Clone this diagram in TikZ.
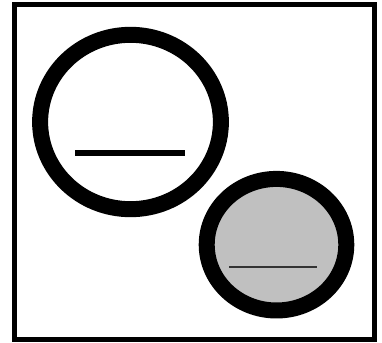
\documentclass[tikz,border=0pt]{standalone}
\usetikzlibrary{shapes.geometric}
\definecolor{DiscGray}{RGB}{192,192,192}
\definecolor{BarGray}{RGB}{51,51,51}
\tikzset{
  frame/.style={draw=black,line width=0.1cm},
  ring/.style={ellipse,draw=black,line width=0.32cm,inner sep=0pt,outer sep=0pt},
  bar/.style={draw=black,line width=0.11cm},
  thinbar/.style={draw=BarGray,line width=0.04cm}
}
\begin{document}
\begin{tikzpicture}[x=0.02cm,y=-0.02cm]
  \useasboundingbox (0,0) rectangle (382,342);
  \draw[frame] (14.5,4.5) rectangle (374.5,339.5);
  \node[ring,minimum width=3.616cm,minimum height=3.488cm] (big) at (130.5,122) {};
  \node[ring,fill=DiscGray,minimum width=2.792cm,minimum height=2.632cm] (small) at (276.5,244.7) {};
  \draw[bar] (75,153) -- (185,153);
  \draw[thinbar] (229.3,266.7) -- (316.7,266.7);
\end{tikzpicture}
\end{document}
